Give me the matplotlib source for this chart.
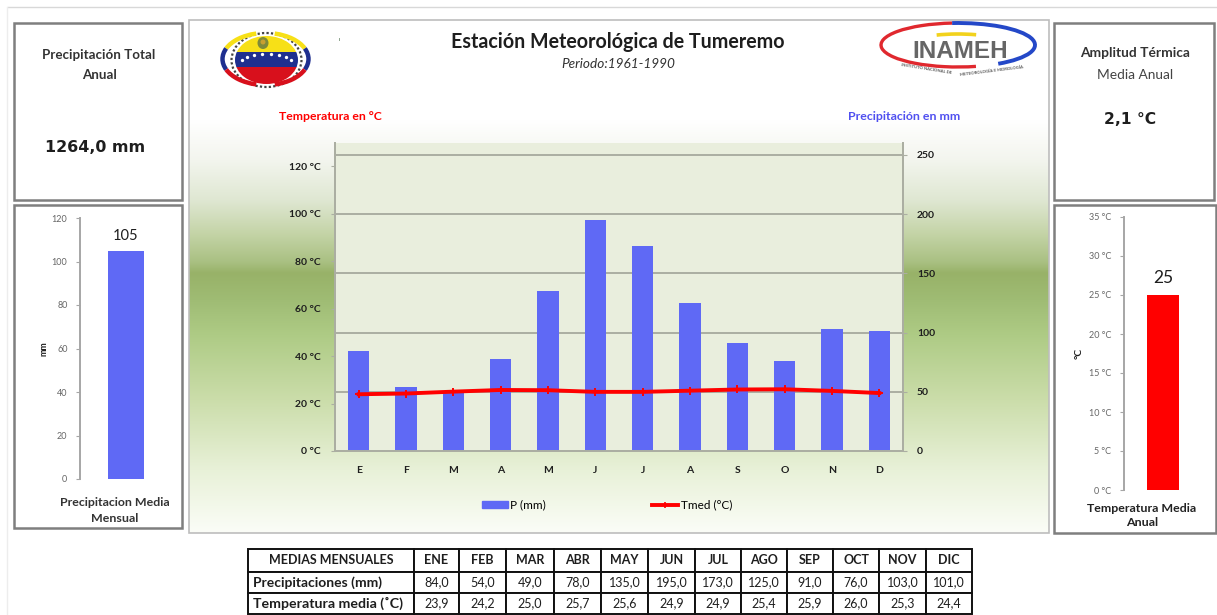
import numpy as np
import matplotlib
matplotlib.use("Agg")
import matplotlib.pyplot as plt
from matplotlib.lines import Line2D
from matplotlib.patches import Arc, Ellipse, Patch, Rectangle

plt.rcParams['font.family'] = ['Lato', 'DejaVu Sans']

# ========== DATA ==========
months_short = ['E', 'F', 'M', 'A', 'M', 'J', 'J', 'A', 'S', 'O', 'N', 'D']
months_table = ['ENE', 'FEB', 'MAR', 'ABR', 'MAY', 'JUN', 'JUL', 'AGO', 'SEP', 'OCT', 'NOV', 'DIC']
precip = [84.0, 54.0, 49.0, 78.0, 135.0, 195.0, 173.0, 125.0, 91.0, 76.0, 103.0, 101.0]
tmed = [23.9, 24.2, 25.0, 25.7, 25.6, 24.9, 24.9, 25.4, 25.9, 26.0, 25.3, 24.4]
precip_ticks = [0, 50, 100, 150, 200, 250]
temp_ticks = [0, 20, 40, 60, 80, 100, 120]
precip_mean = [105]
precip_mean_ticks = [0, 20, 40, 60, 80, 100, 120]
temp_mean = [25]
temp_mean_ticks = [0, 5, 10, 15, 20, 25, 30, 35]
# ==========================

W, H = 1217, 615
BLUE = '#5F69F5'
RED = '#FF0000'
DARK = '#1E1E1E'
BOX = '#7F7F7F'

fig = plt.figure(figsize=(W / 100, H / 100), dpi=100)

# overlay in pixel coords, for panels, logos and table
bg = fig.add_axes([0, 0, 1, 1], zorder=0)
bg.set_xlim(0, W)
bg.set_ylim(H, 0)
bg.axis('off')


def px_axes(left, top, right, bottom):
    return fig.add_axes([left / W, 1 - bottom / H, (right - left) / W, (bottom - top) / H], zorder=2)


def box(x0, y0, x1, y1, color=BOX, lw=1.8):
    bg.add_patch(Rectangle((x0, y0), x1 - x0, y1 - y0, fc='white', ec=color, lw=lw, zorder=1))


# page edge lines
bg.plot([8, W], [7, 7], color='#D8D8D8', lw=1)
bg.plot([7, 7], [7, H], color='#EDEDED', lw=1)

# side panels
box(14, 23, 182, 200)
box(14, 205, 182, 528)
box(1054, 23, 1214, 200)
box(1054, 205, 1216, 533)

# centre panel with the green band
stops_y = [120, 160, 200, 235, 262, 273, 300, 335, 400, 470, 533]
stops_c = ['#FFFFFF', '#F3F5EE', '#DFE7D2', '#C3D3A5', '#A9C082', '#98B268', '#9FBC74', '#AECB85',
           '#CBDDAA', '#E8F1D8', '#FBFDF7']
stops_rgb = np.array([matplotlib.colors.to_rgb(c) for c in stops_c])
yy = np.arange(20, 534)
grad = np.stack([np.interp(yy, stops_y, stops_rgb[:, i]) for i in range(3)], axis=1)[:, None, :]
bg.imshow(grad, extent=(189, 1049, 533, 20), aspect='auto', zorder=1)
bg.set_xlim(0, W)
bg.set_ylim(H, 0)
bg.add_patch(Rectangle((189, 20), 860, 513, fc='none', ec='#BDBDBD', lw=1.2, zorder=2))

# header texts
bg.text(617.5, 42, 'Estación Meteorológica de Tumeremo', ha='center', va='center', fontsize=14.1,
        fontweight='bold', color=DARK, zorder=3)
bg.text(618, 64, 'Periodo:1961-1990', ha='center', va='center', fontsize=9.8, style='italic', color='#333333', zorder=3)
bg.text(330, 116, 'Temperatura en °C', ha='center', va='center', fontsize=8.8, fontweight='bold', color=RED, zorder=3)
bg.text(904, 116, 'Precipitación en mm', ha='center', va='center', fontsize=8.9, fontweight='bold', color='#5050F0', zorder=3)
bg.plot([339, 339], [38, 40], color='#8FA58F', lw=0.7, zorder=3)

# left logo
cx, cy = 266.5, 60
band = Ellipse((cx, cy), 63, 48, fc='white', ec='none', zorder=3)
bg.add_patch(band)
for y0, hgt, col in [(36, 16, '#F7E017'), (52, 15, '#1F2F8F'), (67, 18, '#D8101C')]:
    strip = Rectangle((cx - 33, y0), 66, hgt, fc=col, ec='none', zorder=4)
    bg.add_patch(strip)
    strip.set_clip_path(band)
bg.add_patch(Ellipse((cx, cy), 70, 54, fc='none', ec='#444444', lw=1.6, ls=(0, (1, 1)), zorder=4))
for a0, a1, col in [(195, 250, '#F7E017'), (290, 345, '#F7E017'), (165, 195, '#1F2F8F'), (345, 375, '#1F2F8F'),
                    (110, 165, '#D8101C'), (15, 70, '#D8101C')]:
    bg.add_patch(Arc((cx - 1, cy - 1), 86, 52, theta1=a0, theta2=a1, color=col, lw=3.2, zorder=4))
for ang in np.linspace(205, 335, 8):
    sx = cx + 27 * np.cos(np.radians(ang))
    sy = cy + 4 + 10 * np.sin(np.radians(ang))
    bg.plot(sx, sy, marker='o', ms=2.4, color='white', mew=0, zorder=5)
bg.add_patch(Ellipse((263, 43), 11, 12, fc='#7E8A3A', ec='none', zorder=5))
bg.add_patch(Ellipse((263, 42), 5, 5, fc='#C8A030', ec='none', zorder=5))

# INAMEH logo
lx, ly = 958, 45
bg.add_patch(Arc((lx, ly), 154, 44, theta1=50, theta2=255, color='#E0282E', lw=2.4, zorder=3))
bg.add_patch(Arc((lx, ly), 154, 44, theta1=255, theta2=385, color='#2448C8', lw=2.8, zorder=3))
bg.add_patch(Arc((lx, ly + 5), 120, 32, theta1=215, theta2=320, color='#F2D21C', lw=2.6, zorder=3))
bg.text(960, 51, 'INAMEH', ha='center', va='center', fontsize=17.5, fontweight='bold', color='#666666',
        family=['Liberation Sans', 'DejaVu Sans'], zorder=4)
bg.text(926, 69, 'INSTITUTO NACIONAL DE', ha='center', va='center', fontsize=3, fontweight='bold',
        color='#555555', rotation=-9, zorder=4)
bg.text(992, 71.5, 'METEOROLOGÍA E HIDROLOGÍA', ha='center', va='center', fontsize=3, fontweight='bold',
        color='#555555', rotation=7, zorder=4)

# side panel texts
bg.text(99, 55, 'Precipitación Total', ha='center', va='center', fontsize=9.6, fontweight='bold', color='#333333')
bg.text(99, 75, 'Anual', ha='center', va='center', fontsize=9.6, fontweight='bold', color='#333333')
bg.text(95, 147, '1264,0 mm', ha='center', va='center', fontsize=11.4, fontweight='bold', color=DARK,
        family=['DejaVu Sans'])
bg.text(1135, 53, 'Amplitud Térmica', ha='center', va='center', fontsize=9.9, fontweight='bold', color='#333333')
bg.text(1135, 75, 'Media Anual', ha='center', va='center', fontsize=9.9, color='#444444')
bg.text(1130, 119, '2,1 °C', ha='center', va='center', fontsize=11.2, fontweight='bold', color=DARK,
        family=['DejaVu Sans'])

# ---- main climate chart, bars on the right scale, line on the left ----
GRID = '#ABAEA2'
ax_p = px_axes(335, 143, 903, 451)
x = np.arange(len(months_short))
ax_p.set_facecolor('#E9EEDD')
ax_p.bar(x, precip, width=0.45, color=BLUE, zorder=3)
ax_p.set_xlim(-0.5, 11.5)
ax_p.set_ylim(0, 260)
ax_p.grid(axis='y', color=GRID, lw=1.4, zorder=1)
ax_p.set_axisbelow(True)
ax_p.set_xticks(x)
ax_p.set_xticklabels(months_short, fontweight='bold')
ax_p.tick_params(axis='x', length=0, pad=11, labelsize=7.5, labelcolor=DARK)

ax_t = ax_p.twinx()
ax_t.plot(x, tmed, color=RED, lw=2.8, marker='+', ms=6, mew=1.4, zorder=5)
ax_t.set_ylim(0, 129.7)
ax_t.set_yticks(temp_ticks)
ax_t.set_yticklabels([f'{t} °C' for t in temp_ticks], fontweight='bold')
ax_t.yaxis.tick_left()
ax_t.tick_params(axis='y', length=3, color=GRID, pad=7, labelsize=7.5, labelcolor=DARK)

# twinx moved the base axis ticks, so put the mm scale on the right here
ax_p.set_yticks(precip_ticks)
ax_p.set_yticklabels([str(p) for p in precip_ticks], fontweight='bold')
ax_p.yaxis.tick_right()
ax_p.tick_params(axis='y', length=3, color=GRID, pad=7, labelsize=7.5, labelcolor=DARK)

for a in (ax_p, ax_t):
    a.spines['top'].set_visible(False)
    for s in ('left', 'right', 'bottom'):
        a.spines[s].set_color(GRID)
        a.spines[s].set_linewidth(1.4)

handles = [Patch(color=BLUE, label='P (mm)'),
           Line2D([], [], color=RED, lw=2.8, marker='+', ms=5, mew=1.2, label='Tmed (°C)')]
fig.legend(handles=handles, loc='center', bbox_to_anchor=(607 / W, 1 - 505 / H), ncol=2, frameon=False,
           fontsize=8.5, handlelength=2.2, handleheight=0.5, handletextpad=0.2, columnspacing=9)

# ---- monthly precipitation mini chart ----
ax_l = px_axes(80, 218, 172, 479)
ax_l.bar([0], precip_mean, width=0.4, color=BLUE)
ax_l.set_xlim(-0.5, 0.5)
ax_l.set_ylim(0, 120)
ax_l.set_xticks([])
ax_l.set_yticks(precip_mean_ticks)
ax_l.set_ylabel('mm', fontsize=6.5, fontweight='bold', labelpad=2, color=DARK)
ax_l.text(0, precip_mean[0] + 3.5, str(precip_mean[0]), ha='center', va='bottom', fontsize=10.5, color=DARK)
bg.text(115, 502, 'Precipitacion Media', ha='center', va='center', fontsize=8.9, fontweight='bold', color='#333333')
bg.text(115, 519, 'Mensual', ha='center', va='center', fontsize=8.9, fontweight='bold', color='#333333')

# ---- mean temperature mini chart ----
ax_r = px_axes(1124, 217, 1202, 490)
ax_r.bar([0], temp_mean, width=0.42, color=RED)
ax_r.set_xlim(-0.5, 0.5)
ax_r.set_ylim(0, 35)
ax_r.set_xticks([])
ax_r.set_yticks(temp_mean_ticks)
ax_r.set_yticklabels([f'{t} °C' for t in temp_mean_ticks])
ax_r.set_ylabel('°C', fontsize=7.5, fontweight='bold', labelpad=4, color=DARK)
ax_r.text(0, temp_mean[0] + 1.2, str(temp_mean[0]), ha='center', va='bottom', fontsize=12.5, color=DARK)
bg.text(1142, 508, 'Temperatura Media', ha='center', va='center', fontsize=8.9, fontweight='bold', color='#222222')
bg.text(1142, 523, 'Anual', ha='center', va='center', fontsize=8.9, fontweight='bold', color='#222222')

for a in (ax_l, ax_r):
    a.patch.set_alpha(0)
    for s in ('top', 'right', 'bottom'):
        a.spines[s].set_visible(False)
    a.spines['left'].set_color('#A6A6A6')
    a.spines['left'].set_linewidth(1.4)
    a.tick_params(axis='y', length=3, color='#A6A6A6', labelsize=6.5, labelcolor='#666666', pad=6)

# ---- table ----
edges = [248, 414, 459, 506, 554, 601, 648, 695, 741, 787, 833, 879, 926, 972]
rows_y = [549, 572, 593, 614]
table_rows = [
    ['MEDIAS MENSUALES'] + months_table,
    ['Precipitaciones (mm)'] + [f'{v:.1f}'.replace('.', ',') for v in precip],
    ['Temperatura media (˚C)'] + [f'{v:.1f}'.replace('.', ',') for v in tmed],
]
first_col_size = [9, 10, 10.2]
for r, row in enumerate(table_rows):
    for c, txt in enumerate(row):
        x0, x1 = edges[c], edges[c + 1]
        y0, y1 = rows_y[r], rows_y[r + 1]
        bg.add_patch(Rectangle((x0, y0), x1 - x0, y1 - y0, fc='white', ec='#111111', lw=1.4, zorder=2))
        if c == 0 and r > 0:
            bg.text(x0 + 5, (y0 + y1) / 2, txt, ha='left', va='center', fontsize=first_col_size[r],
                    fontweight='bold', color=DARK, zorder=3)
        else:
            size = first_col_size[0]
            bg.text((x0 + x1) / 2, (y0 + y1) / 2, txt, ha='center', va='center', fontsize=size,
                    fontweight='bold' if r == 0 else 'normal', color=DARK, zorder=3)

fig.savefig('out.png', dpi=100)
